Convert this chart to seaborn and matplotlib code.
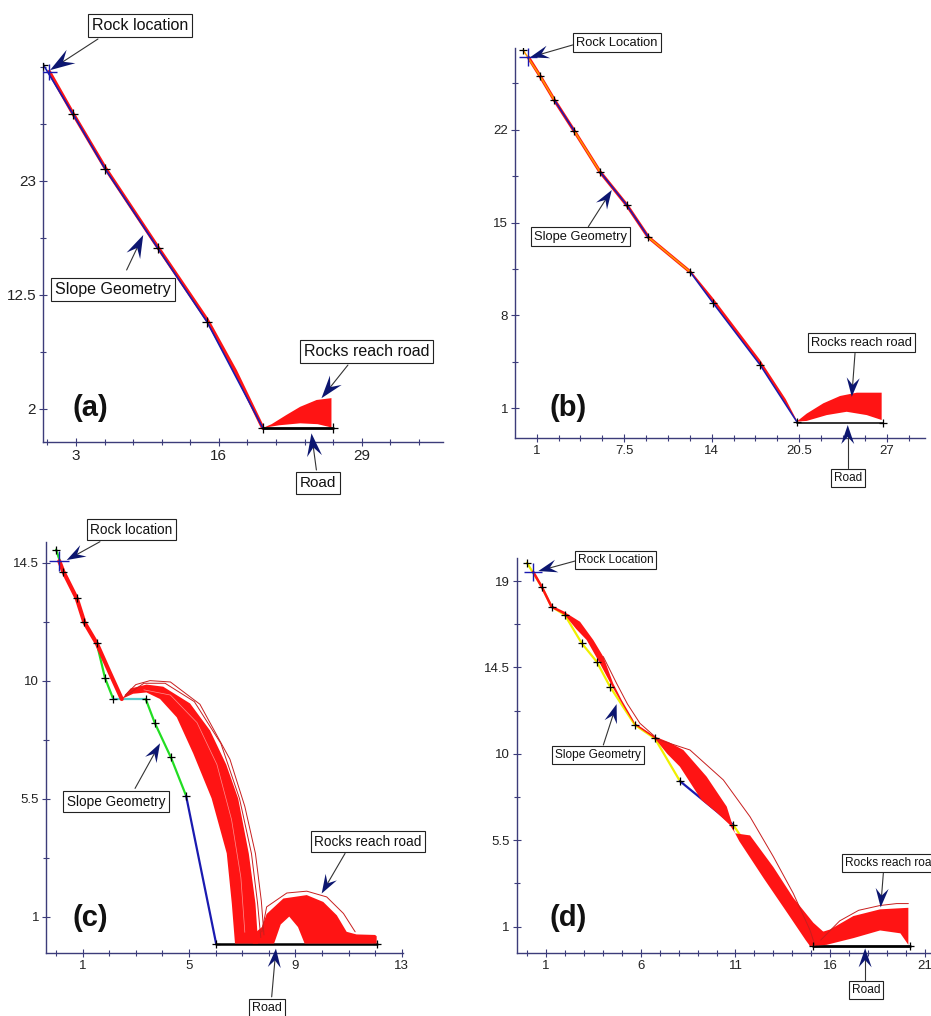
import numpy as np
import matplotlib.pyplot as plt
import seaborn as sns
from matplotlib.ticker import MultipleLocator

# ---------------- panel (a) ----------------
A_SLOPE_X = [0.03, 2.7, 5.66, 10.45, 14.94, 20.0]
A_SLOPE_Y = [33.7, 29.2, 24.1, 16.8, 10.0, 0.25]
A_ROCK = [0.57, 33.06]
A_ROAD_X = [20.0, 26.4]
A_ROAD_Y = [0.25, 0.25]
A_RUN_X = [0.57, 2.7, 5.66, 10.45, 14.94, 17.5, 20.0]
A_RUN_Y = [33.06, 29.25, 24.2, 16.9, 10.2, 5.5, 0.25]
A_HOP_TOP_X = [20.0, 20.8, 22.15, 23.4, 24.9, 26.25]
A_HOP_TOP_Y = [0.25, 0.6, 1.45, 2.2, 2.83, 3.0]
A_HOP_LOW_X = [20.0, 21.5, 23.4, 25.0, 26.25]
A_HOP_LOW_Y = [0.25, 0.5, 0.68, 0.6, 0.3]

# ---------------- panel (b) ----------------
B_SLOPE_X = [0.0, 1.25, 2.31, 3.8, 5.7, 7.69, 9.3, 12.39, 14.12, 17.6, 20.32]
B_SLOPE_Y = [28.0, 26.06, 24.25, 21.9, 18.84, 16.33, 13.9, 11.3, 8.92, 4.27, 0.0]
B_ROCK = [0.38, 27.47]
B_ROAD_X = [20.32, 26.75]
B_ROAD_Y = [-0.1, -0.1]
B_RUN_X = [0.38, 1.25, 2.31, 3.8, 5.7, 7.69, 9.3, 12.39]
B_RUN_Y = [27.47, 26.06, 24.25, 21.9, 18.84, 16.33, 13.9, 11.3]
B_BAND_TOP_X = [12.39, 14.12, 16.1, 17.6, 19.5, 20.32]
B_BAND_TOP_Y = [11.45, 9.3, 6.65, 4.65, 1.7, 0.1]
B_BAND_LOW_X = [12.39, 14.12, 17.6, 20.32]
B_BAND_LOW_Y = [11.3, 8.92, 4.27, 0.0]
B_HOP_TOP_X = [20.32, 21.06, 22.3, 23.54, 24.78, 26.63]
B_HOP_TOP_Y = [0.0, 0.6, 1.38, 1.93, 2.18, 2.18]
B_HOP_LOW_X = [20.32, 21.06, 22.55, 24.03, 25.52, 26.63]
B_HOP_LOW_Y = [0.0, 0.05, 0.49, 0.74, 0.49, 0.12]

# ---------------- panel (c) ----------------
C_SLOPE_X = [0.0, 0.27, 0.775, 1.06, 1.53, 1.84, 2.15, 3.37, 3.72, 4.32, 4.89, 6.02]
C_SLOPE_Y = [15.0, 14.16, 13.14, 12.23, 11.42, 10.1, 9.3, 9.3, 8.37, 7.07, 5.61, -0.03]
C_ROCK = [0.12, 14.56]
C_ROAD_X = [6.02, 12.06]
C_ROAD_Y = [-0.03, -0.03]
C_RUN_X = [0.12, 0.27, 0.775, 1.06, 1.53, 2.0, 2.47]
C_RUN_Y = [14.56, 14.16, 13.14, 12.23, 11.42, 10.35, 9.3]
C_ARC_OUT_X = [2.47, 2.8, 3.4, 4.03, 5.04, 5.79, 6.4, 6.85, 7.25, 7.5, 7.6]
C_ARC_OUT_Y = [9.3, 9.7, 9.85, 9.77, 9.13, 8.1, 6.8, 5.5, 3.4, 1.5, -0.03]
C_ARC_IN_X = [2.47, 2.9, 3.4, 3.91, 4.54, 5.16, 5.85, 6.42, 6.61, 6.73]
C_ARC_IN_Y = [9.3, 9.5, 9.55, 9.3, 8.6, 7.22, 5.51, 3.41, 1.5, -0.03]
C_FLY1_X = [2.6, 3.0, 3.53, 4.3, 5.41, 6.54, 7.1, 7.5, 7.72, 7.82]
C_FLY1_Y = [9.45, 9.85, 10.0, 9.95, 9.1, 7.0, 5.2, 3.4, 1.6, 0.3]
C_FLY2_X = [2.6, 3.3, 4.1, 5.2, 6.2, 6.9, 7.35, 7.58, 7.7]
C_FLY2_Y = [9.4, 9.9, 9.9, 9.2, 7.6, 5.5, 3.4, 1.5, 0.2]
C_GAP_X = [3.3, 4.3, 5.3, 6.05, 6.6, 6.95, 7.1]
C_GAP_Y = [9.65, 9.45, 8.4, 6.8, 4.7, 2.5, 0.4]
C_HOP_TOP_X = [7.4, 7.74, 7.92, 8.55, 9.43, 10.05, 10.56, 10.93, 11.3, 12.0, 12.06]
C_HOP_TOP_Y = [0.3, 0.6, 1.1, 1.69, 1.82, 1.56, 1.05, 0.42, 0.32, 0.3, 0.25]
C_HOP_LOW_X = [7.4, 8.2, 8.45, 8.77, 9.1, 9.35, 12.06]
C_HOP_LOW_Y = [-0.03, -0.03, 0.7, 1.0, 0.6, -0.03, -0.03]
C_HOP1_X = [7.74, 7.92, 8.68, 9.43, 10.18, 10.81, 11.25]
C_HOP1_Y = [0.42, 1.37, 1.9, 1.97, 1.75, 1.12, 0.42]

# ---------------- panel (d) ----------------
D_SLOPE_X = [0.0, 0.78, 1.3, 2.0, 2.89, 3.68, 4.38, 5.7, 6.75, 8.07, 10.89, 15.11]
D_SLOPE_Y = [19.95, 18.7, 17.66, 17.23, 15.76, 14.8, 13.5, 11.5, 10.8, 8.58, 6.29, -0.01]
D_ROCK = [0.33, 19.48]
D_ROAD_X = [15.11, 20.2]
D_ROAD_Y = [-0.01, -0.01]
D_RUN_X = [0.33, 0.78, 1.3, 2.0]
D_RUN_Y = [19.48, 18.7, 17.66, 17.32]
D_B1_TOP_X = [1.3, 2.09, 2.8, 3.5, 4.03, 4.55, 5.0, 5.61, 5.7]
D_B1_TOP_Y = [17.66, 17.32, 16.88, 15.93, 15.06, 13.67, 12.8, 11.76, 11.5]
D_B1_LOW_X = [1.3, 2.0, 2.6, 3.15, 3.85, 4.55, 5.2, 5.7]
D_B1_LOW_Y = [17.66, 17.23, 16.5, 15.93, 14.71, 13.41, 12.3, 11.5]
D_B2_TOP_X = [5.7, 6.75, 7.5, 8.25, 9.48, 10.54, 10.98]
D_B2_TOP_Y = [11.6, 10.9, 10.6, 10.2, 8.81, 7.25, 5.86]
D_B2_LOW_X = [5.7, 6.75, 7.4, 8.07, 9.2, 10.0, 10.7, 10.98]
D_B2_LOW_Y = [11.5, 10.8, 10.0, 9.33, 7.6, 6.95, 6.3, 5.86]
D_B3_TOP_X = [10.98, 11.77, 13.0, 14.05, 15.11, 15.73]
D_B3_TOP_Y = [5.86, 5.75, 4.1, 2.5, 1.2, 0.65]
D_B3_LOW_X = [10.98, 11.2, 12.5, 13.75, 14.7, 14.93]
D_B3_LOW_Y = [5.86, 5.45, 3.5, 1.69, 0.3, -0.01]
D_HOP_TOP_X = [14.9, 15.5, 15.99, 17.22, 18.63, 20.12]
D_HOP_TOP_Y = [0.0, 0.7, 0.85, 1.55, 1.9, 1.98]
D_HOP_LOW_X = [14.9, 15.8, 17.22, 18.63, 19.7, 20.12]
D_HOP_LOW_Y = [-0.01, 0.05, 0.4, 0.8, 0.65, 0.05]
D_FLY_X = [6.75, 8.6, 10.36, 11.77, 13.0, 14.05, 14.93, 15.2]
D_FLY_Y = [10.8, 10.2, 8.64, 6.72, 4.64, 2.73, 0.82, 0.0]
D_FLY2_X = [4.03, 4.73, 5.3, 5.96, 6.75]
D_FLY2_Y = [15.06, 13.67, 12.6, 11.59, 10.9]
D_HOP1_X = [15.5, 16.5, 17.5, 18.63, 19.5, 20.12]
D_HOP1_Y = [0.3, 1.3, 1.85, 2.1, 2.2, 2.2]

RED = '#ff1414'
DARKRED = '#c81e1e'
NAVY = '#0c1670'
AXC = '#3c3c7a'
BLUE = '#1a1ab0'
ORANGE = '#ff9a00'
GREEN = '#22dd22'
CYAN = '#55cccc'
YELLOW = '#f0f000'

sns.set_theme(style="white")
plt.rcParams['font.family'] = ['Liberation Sans', 'DejaVu Sans']

fig = plt.figure(figsize=(9.31, 10.16), dpi=100)
W, H = 931, 1016


def make_axes(l, t, r, b):
    return fig.add_axes([l / W, 1 - b / H, (r - l) / W, (b - t) / H])


def line(ax, xs, ys, color, lw, z=3, alpha=1.0):
    sns.lineplot(x=xs, y=ys, sort=False, estimator=None, color=color,
                 linewidth=lw, ax=ax, zorder=z, alpha=alpha)


def band(ax, tx, ty, lx, ly, color=RED, z=2):
    ax.fill(list(tx) + list(lx)[::-1], list(ty) + list(ly)[::-1],
            color=color, lw=0, zorder=z)


def slope(ax, xs, ys, colors, lw=1.6, z=3):
    for i, c in enumerate(colors):
        line(ax, xs[i:i + 2], ys[i:i + 2], c, lw, z)


def verts(ax, xs, ys, s=45):
    sns.scatterplot(x=xs, y=ys, marker='+', color='black', s=s,
                    linewidth=0.9, ax=ax, zorder=6)


def rock(ax, xy, s=160):
    ax.scatter([xy[0]], [xy[1]], marker='+', color=BLUE, s=s, lw=1.0, zorder=6)


def style(ax, xlim, ylim, xt, yt, xminor, yminor, fs):
    ax.set_xlim(*xlim)
    ax.set_ylim(*ylim)
    ax.grid(False)
    ax.patch.set_alpha(0)
    for s in ['top', 'right']:
        ax.spines[s].set_visible(False)
    for s in ['left', 'bottom']:
        ax.spines[s].set_color(AXC)
        ax.spines[s].set_linewidth(1.0)
    ax.set_xticks(xt, labels=['%g' % v for v in xt])
    ax.set_yticks(yt, labels=['%g' % v for v in yt])
    ax.xaxis.set_minor_locator(MultipleLocator(xminor[0], offset=xminor[1]))
    ax.yaxis.set_minor_locator(MultipleLocator(yminor[0], offset=yminor[1]))
    ax.tick_params(which='major', direction='inout', length=6, width=0.8,
                   color=AXC, labelsize=fs, labelcolor='#222222', pad=2,
                   bottom=True, left=True)
    ax.tick_params(which='minor', direction='inout', length=4, width=0.8,
                   color=AXC, bottom=True, left=True)


def callout(ax, text, xy_text, tail, tip, fs, head=(19, 6.5), ha='center'):
    ax.text(xy_text[0], xy_text[1], text, fontsize=fs, ha=ha, va='center',
            color='#111111', zorder=8, clip_on=False,
            bbox=dict(boxstyle='square,pad=0.25', fc='white', ec='#222222', lw=0.8))
    T = ax.transData.transform(tip)
    A = ax.transData.transform(tail)
    u = (A - T) / np.hypot(*(A - T))
    n = np.array([-u[1], u[0]])
    L, Wd = head
    pts = np.array([T, T + u * L + n * Wd, T + u * L * 0.62, T + u * L - n * Wd])
    pts = ax.transData.inverted().transform(pts)
    ax.plot([tail[0], pts[2][0]], [tail[1], pts[2][1]], color='#333333',
            lw=0.8, clip_on=False, zorder=7)
    ax.fill(pts[:, 0], pts[:, 1], color=NAVY, lw=0, clip_on=False, zorder=7)


def panel_label(ax, xy, s):
    ax.text(xy[0], xy[1], s, fontsize=21, fontweight='bold', ha='center',
            va='center', color='#111111')


# ---------------- (a) ----------------
ax = make_axes(43, 63, 443, 442)
line(ax, A_RUN_X, A_RUN_Y, RED, 2.6, 2)
slope(ax, A_SLOPE_X, A_SLOPE_Y, [BLUE] * 5, 1.2, 3)
line(ax, A_ROAD_X, A_ROAD_Y, 'black', 2.0, 4)
band(ax, A_HOP_TOP_X, A_HOP_TOP_Y, A_HOP_LOW_X, A_HOP_LOW_Y)
verts(ax, A_SLOPE_X + A_ROAD_X[1:], A_SLOPE_Y + A_ROAD_Y[1:], 55)
rock(ax, A_ROCK, 120)
style(ax, (0, 36.4), (-1.04, 33.86), [3, 16, 29], [2, 12.5, 23],
      (2.6, 0.4), (5.25, 2), 11)
panel_label(ax, (4.27, 2.09), '(a)')
callout(ax, 'Rock location', (8.82, 37.27), (5.0, 36.07), (0.64, 33.2), 11.5, (25, 8))
callout(ax, 'Slope Geometry', (6.36, 12.96), (7.61, 14.8), (9.12, 18.02), 11.5, (23, 7.5))
callout(ax, 'Rocks reach road', (29.43, 7.28), (27.75, 6.05), (25.34, 2.99), 11.5, (23, 7.5))
callout(ax, 'Road', (25.03, -4.79), (24.88, -3.62), (24.43, -0.24), 11, (23, 7.5))

# ---------------- (b) ----------------
ax = make_axes(515, 48, 925, 438.3)
line(ax, B_RUN_X, B_RUN_Y, RED, 2.4, 2)
band(ax, B_BAND_TOP_X, B_BAND_TOP_Y, B_BAND_LOW_X, B_BAND_LOW_Y)
slope(ax, B_SLOPE_X, B_SLOPE_Y,
      [ORANGE, ORANGE, BLUE, ORANGE, BLUE, BLUE, ORANGE, BLUE, BLUE, BLUE], 1.1, 3)
line(ax, B_ROAD_X, B_ROAD_Y, '#333333', 1.4, 4)
band(ax, B_HOP_TOP_X, B_HOP_TOP_Y, B_HOP_LOW_X, B_HOP_LOW_Y)
verts(ax, B_SLOPE_X + B_ROAD_X[1:], B_SLOPE_Y + B_ROAD_Y[1:], 40)
rock(ax, B_ROCK, 150)
style(ax, (-0.61, 29.85), (-1.26, 28.17), [1, 7.5, 14, 20.5, 27], [1, 8, 15, 22],
      (1.625, 1.0), (3.5, 1.0), 9.5)
panel_label(ax, (3.33, 1.02), '(b)')
callout(ax, 'Rock Location', (6.95, 28.57), (3.68, 28.4), (0.51, 27.47), 9.3)
callout(ax, 'Slope Geometry', (4.27, 13.94), (4.84, 14.7), (6.58, 17.46), 9.3)
callout(ax, 'Rocks reach road', (25.15, 5.95), (24.65, 5.15), (24.41, 1.87), 9.3)
callout(ax, 'Road', (24.11, -4.23), (24.11, -3.52), (24.11, -0.26), 8.5)

# ---------------- (c) ----------------
ax = make_axes(46, 541.7, 403, 953.3)
slope(ax, C_SLOPE_X, C_SLOPE_Y,
      [GREEN, BLUE, BLUE, CYAN, GREEN, GREEN, CYAN, GREEN, GREEN, GREEN, BLUE], 1.6, 3)
line(ax, C_ROAD_X, C_ROAD_Y, 'black', 1.8, 4)
line(ax, C_RUN_X, C_RUN_Y, RED, 3.0, 5)
band(ax, C_ARC_OUT_X, C_ARC_OUT_Y, C_ARC_IN_X, C_ARC_IN_Y, z=5)
band(ax, C_HOP_TOP_X, C_HOP_TOP_Y, C_HOP_LOW_X, C_HOP_LOW_Y, z=5)
for xs, ys in [(C_FLY1_X, C_FLY1_Y), (C_FLY2_X, C_FLY2_Y), (C_HOP1_X, C_HOP1_Y)]:
    line(ax, xs, ys, DARKRED, 0.7, 5)
line(ax, C_GAP_X, C_GAP_Y, '#ffb0b0', 0.5, 5, 0.8)
verts(ax, C_SLOPE_X + C_ROAD_X[1:], C_SLOPE_Y + C_ROAD_Y[1:], 40)
rock(ax, C_ROCK, 200)
style(ax, (-0.38, 13.05), (-0.4, 15.3), [1, 5, 9, 13], [1, 5.5, 10, 14.5],
      (1.0, 0.0), (2.25, 1.0), 9.5)
panel_label(ax, (1.30, 0.94), '(c)')
callout(ax, 'Rock location', (2.82, 15.75), (1.65, 15.3), (0.4, 14.6), 9.8)
callout(ax, 'Slope Geometry', (2.25, 5.38), (2.97, 5.89), (3.91, 7.61), 9.8)
callout(ax, 'Rocks reach road', (11.72, 3.85), (10.87, 3.41), (9.99, 1.88), 9.8)
callout(ax, 'Road', (7.92, -2.48), (8.11, -2.06), (8.27, -0.22), 9)

# ---------------- (d) ----------------
ax = make_axes(516.7, 558, 944, 953.3)
slope(ax, D_SLOPE_X, D_SLOPE_Y,
      [YELLOW] * 9 + [BLUE, YELLOW], 1.6, 3)
line(ax, D_ROAD_X, D_ROAD_Y, 'black', 2.0, 4)
line(ax, D_RUN_X, D_RUN_Y, RED, 1.8, 5)
band(ax, D_B1_TOP_X, D_B1_TOP_Y, D_B1_LOW_X, D_B1_LOW_Y, z=5)
band(ax, D_B2_TOP_X, D_B2_TOP_Y, D_B2_LOW_X, D_B2_LOW_Y, z=5)
band(ax, D_B3_TOP_X, D_B3_TOP_Y, D_B3_LOW_X, D_B3_LOW_Y, z=5)
band(ax, D_HOP_TOP_X, D_HOP_TOP_Y, D_HOP_LOW_X, D_HOP_LOW_Y, z=5)
for xs, ys in [(D_FLY_X, D_FLY_Y), (D_FLY2_X, D_FLY2_Y), (D_HOP1_X, D_HOP1_Y)]:
    line(ax, xs, ys, DARKRED, 0.7, 5)
verts(ax, D_SLOPE_X + D_ROAD_X[1:], D_SLOPE_Y + D_ROAD_Y[1:], 40)
rock(ax, D_ROCK, 150)
style(ax, (-0.54, 22.0), (-0.39, 20.2), [1, 6, 11, 16, 21], [1, 5.5, 10, 14.5, 19],
      (1.0, 0.0), (2.25, 1.0), 9.5)
panel_label(ax, (2.16, 1.45), '(d)')
callout(ax, 'Rock Location', (4.68, 20.09), (2.53, 20.04), (0.6, 19.52), 8.6)
callout(ax, 'Slope Geometry', (3.76, 9.92), (4.03, 10.46), (4.73, 12.59), 8.6)
# the reference picture crops this box at its right edge
callout(ax, 'Rocks reach road', (16.78, 4.30), (18.8, 3.78), (18.66, 2.0), 8.6, ha='left')
callout(ax, 'Road', (17.89, -2.3), (17.84, -1.78), (17.84, -0.13), 8.6)

fig.savefig('out.png', dpi=100)
